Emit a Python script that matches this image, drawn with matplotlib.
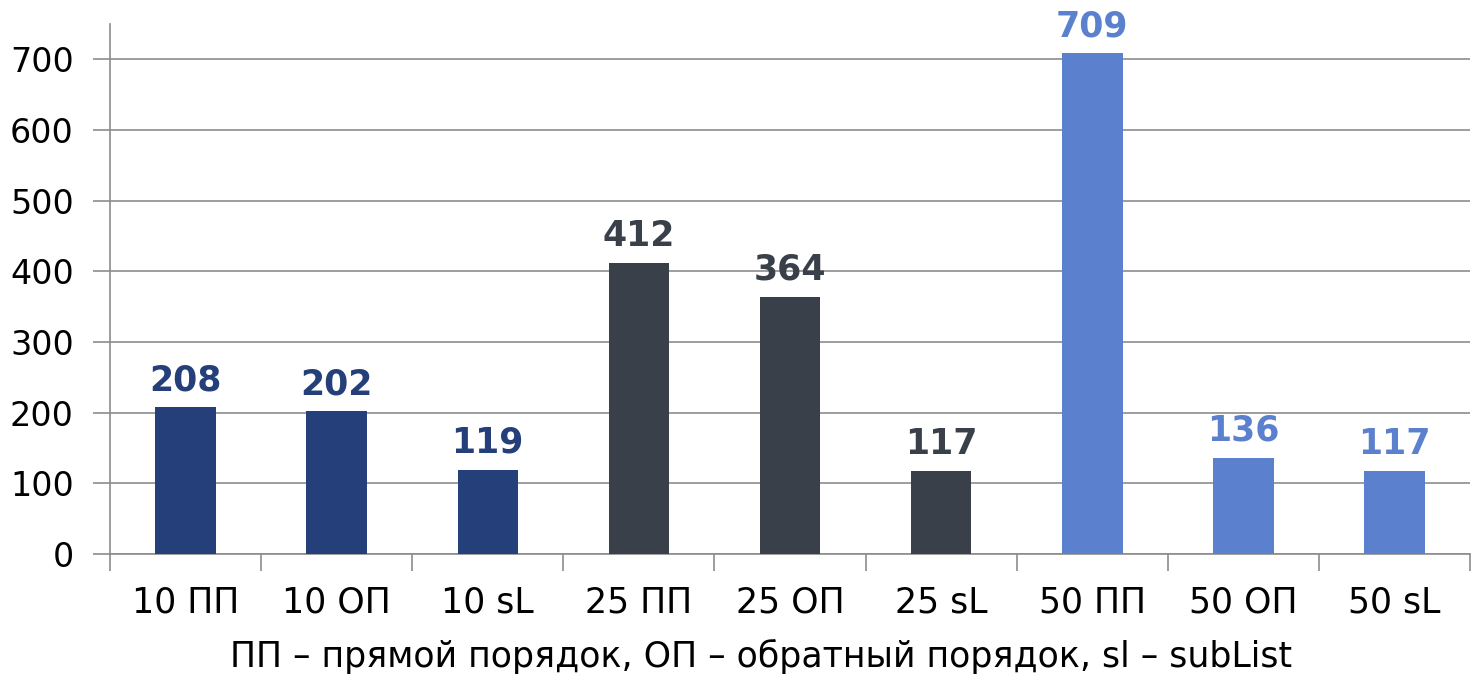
import numpy as np
import matplotlib.pyplot as plt

categories = ['10 ПП', '10 ОП', '10 sL', '25 ПП', '25 ОП', '25 sL', '50 ПП', '50 ОП', '50 sL']
values = [208, 202, 119, 412, 364, 117, 709, 136, 117]
groups = [0, 0, 0, 1, 1, 1, 2, 2, 2]
group_colors = ['#253F7B', '#3A4049', '#5B80CD']

plt.rcParams['font.family'] = ['DejaVu Sans']

fig = plt.figure(figsize=(14.82, 6.76), dpi=100)
ax = fig.add_axes([0.0742, 0.1805, 0.9178, 0.784])

x = np.arange(len(categories))
cols = [group_colors[g] for g in groups]
bars = ax.bar(x, values, width=0.4, color=cols, zorder=3)

for b, v, c in zip(bars, values, cols):
    ax.text(b.get_x() + b.get_width() / 2, v + 14, str(v), ha='center', va='bottom',
            fontsize=25, fontweight='bold', color=c, zorder=4)

ax.set_xlim(-0.5, len(categories) - 0.5)
ax.set_ylim(0, 750)
ax.set_yticks(np.arange(0, 701, 100))
ax.yaxis.grid(True, color='#8c8c8c', linewidth=1.2, zorder=0)

ax.set_xticks(x)
ax.set_xticklabels(categories)
ax.set_xticks(np.arange(-0.5, len(categories), 1), minor=True)
ax.tick_params(axis='x', which='major', length=0, pad=23, labelsize=25)
ax.tick_params(axis='x', which='minor', length=12, width=1.2, color='#8c8c8c')
ax.tick_params(axis='y', length=12, width=1.2, color='#8c8c8c', labelsize=24, pad=14)

for s in ['top', 'right']:
    ax.spines[s].set_visible(False)
for s in ['left', 'bottom']:
    ax.spines[s].set_color('#8c8c8c')
    ax.spines[s].set_linewidth(1.2)

ax.set_xlabel('ПП – прямой порядок, ОП – обратный порядок, sl – subList', fontsize=25, labelpad=17)
ax.xaxis.set_label_coords(0.479, -0.16)

fig.savefig('out.png')
